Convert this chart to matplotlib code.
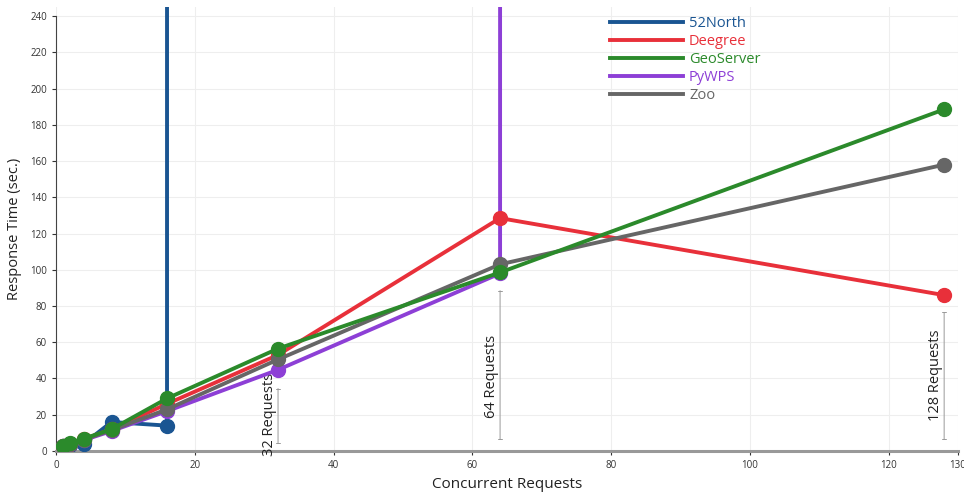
import matplotlib
matplotlib.use("Agg")
import matplotlib.pyplot as plt

# concurrent request levels
requests = [1, 2, 4, 8, 16, 32, 64, 128]

# response times in seconds; an off-chart value marks the point where a server broke down
OFF_CHART = 1000
north52_x = [1, 2, 4, 8, 16, 16]
north52_y = [2.5, 3.5, 4, 16, 14, OFF_CHART]
deegree_y = [3, 4, 6.5, 12, 26, 53, 128.5, 86]
geoserver_y = [3, 4.5, 6.8, 12, 29, 56.5, 98.5, 188.5]
pywps_x = [1, 2, 4, 8, 16, 32, 64, 64]
pywps_y = [3, 4, 6, 11, 22, 44.8, 98, OFF_CHART]
zoo_y = [3, 4, 6.3, 11.5, 23, 50.5, 103, 158]

notes = ["32 Requests", "64 Requests", "128 Requests"]
note_x = [32, 64, 128]
note_span = [(3, 36), (5, 90), (5, 78)]
note_text_pos = [(30.8, 20), (62.8, 41), (126.7, 42)]

COLORS = {
	"52North": "#1a5592",
	"Deegree": "#e8303a",
	"GeoServer": "#2b8a2b",
	"PyWPS": "#8d3fd6",
	"Zoo": "#666666",
}

plt.rcParams["font.family"] = ["Open Sans", "DejaVu Sans"]

fig = plt.figure(figsize=(9.64, 4.98), dpi=100)
ax = fig.add_axes([0.0581, 0.0944, 0.9357, 0.8916])

series = [
	("52North", north52_x, north52_y, 3),
	("PyWPS", pywps_x, pywps_y, 4),
	("Deegree", requests, deegree_y, 5),
	("Zoo", requests, zoo_y, 6),
	("GeoServer", requests, geoserver_y, 7),
]
handles = {}
for name, xs, ys, z in series:
	line, = ax.plot(xs, ys, color=COLORS[name], linewidth=2.8, marker="o",
		markersize=10, zorder=z, label=name)
	handles[name] = line

for text, x, (y0, y1), (tx, ty) in zip(notes, note_x, note_span, note_text_pos):
	ax.annotate("", xy=(x, y0), xytext=(x, y1),
		arrowprops=dict(arrowstyle="|-|, widthA=0.12, widthB=0.12", color="#999999", lw=0.7))
	ax.text(tx, ty, text, rotation=90, ha="center", va="center", fontsize=10.5, color="#222222")

ax.set_xlim(0, 130)
ax.set_ylim(0, 245)
ax.set_xticks([0, 20, 40, 60, 80, 100, 120, 130])
ax.set_yticks(range(0, 241, 20))
ax.tick_params(labelsize=7, colors="#333333", length=3, width=0.8)
ax.grid(True, color="#eeeeee", linewidth=0.8)
ax.set_axisbelow(True)

for side in ["top", "right"]:
	ax.spines[side].set_visible(False)
ax.spines["left"].set_bounds(0, 240)
ax.spines["left"].set_color("#444444")
ax.spines["left"].set_linewidth(0.8)
ax.spines["bottom"].set_color("#999999")
ax.spines["bottom"].set_linewidth(2.2)

ax.set_xlabel("Concurrent Requests", fontsize=11, color="#222222", labelpad=4)
ax.set_ylabel("Response Time (sec.)", fontsize=10.5, color="#222222", labelpad=6)

order = ["52North", "Deegree", "GeoServer", "PyWPS", "Zoo"]
legend = ax.legend([handles[n] for n in order], order, loc="upper left",
	bbox_to_anchor=(0.6, 1.01), frameon=False, fontsize=10.5, handlelength=5.0,
	labelspacing=0.22, handletextpad=0.4)
for text, name in zip(legend.get_texts(), order):
	text.set_color(COLORS[name])
for h in legend.legend_handles:
	h.set_marker("")

fig.savefig("out.png", dpi=100)
